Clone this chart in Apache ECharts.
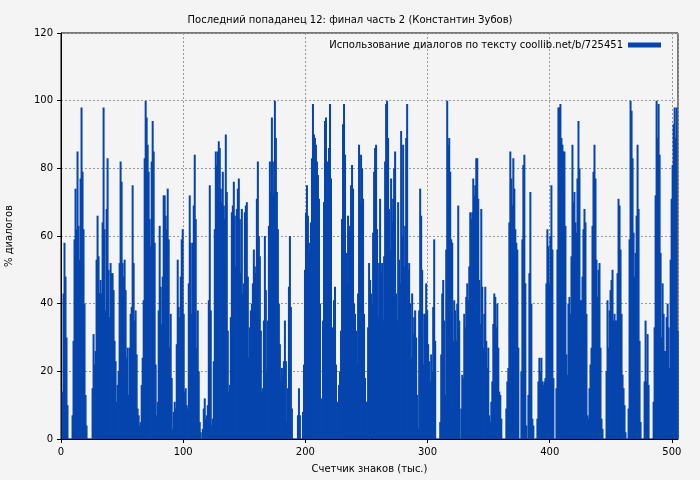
<!DOCTYPE html>
<html><head><meta charset="utf-8">
<script src="https://cdn.jsdelivr.net/npm/echarts@6/dist/echarts.min.js"></script>
<style>html,body{margin:0;padding:0;background:#f4f4f4}#c{width:700px;height:480px}</style>
</head><body><div id="c"></div>
<script>
const titleText = 'Последний попаданец 12: финал часть 2 (Константин Зубов)';
const seriesName = 'Использование диалогов по тексту coollib.net/b/725451';
const xAxisName = 'Счетчик знаков (тыс.)';
const yAxisName = '% диалогов';
const step = 0.82; // thousand chars per bar
const seg1 = [0,14,43,58,48,30,10,0,0,0,0,7,29,59,74,62,85,63,53,77,98,79,62,40,13,4,0,0,0,0,0,15,31,22,26,53,66,54,43,47,43,64,98,62,38,68,83,50,36,52,49,49];
const seg2 = [44,29,23,11,16,20,52,82,76,52,48,53,44,24,27,13,27,37,39,75,52,35,38,25,9,7,4,5,16,24,41,83,100,95,87,79,65,57,82,94,85,58,22,7,11,38,63,45,34,48,72,72];
const seg3 = [66,62,74,59,27,37,18,3,8,11,9,28,53,39,36,48,59,62,37,14,15,10,9,46,72,58,37,58,69,84,65,27,38,20,5,2,0,3,9,12,6,7,10,41,75,38,4,6,23,62,85,81];
const seg4 = [85,88,86,74,70,79,69,65,90,73,32,14,16,36,67,69,76,66,51,68,74,77,65,49,68,43,46,67,69,70,48,24,33,38,40,46,56,51,49,71,82,60,54,32,14,15,35,60,44,20,35,63];
const seg5 = [82,73,95,82,72,100,89,73,62,40,28,17,21,19,23,35,23,5,15,45,60,39,9,0,0,0,0,0,7,15,7,0,0,8,22,50,67,75,66,58,55,64,83,99,90,89,87,82,78,71,40,11];
const seg6 = [12,35,70,94,95,82,60,86,99,77,28,33,41,45,22,5,11,16,20,32,65,93,99,84,55,46,66,61,63,75,81,74,40,37,32,22,43,87,70,84,80,71,37,18,11,11,33,52,47,43,40,61];
const seg7 = [79,86,87,62,36,52,71,49,52,35,54,82,99,100,89,68,56,77,64,71,80,85,43,35,70,53,46,91,60,87,51,63,89,99,50,52,40,24,43,31,36,38,30,13,3,38,74,66,50,22,37,37];
const seg8 = [46,38,28,23,17,25,20,39,59,29,0,0,0,0,5,25,43,47,35,13,56,100,87,89,79,59,58,29,41,38,29,40,69,35,0,9,19,18,37,33,42,46,41,51,67,65,67,77,72,75,83,83];
const seg9 = [71,47,34,68,45,27,37,45,29,21,27,7,5,11,17,34,43,42,33,40,27,14,13,6,0,0,0,0,9,17,21,64,85,77,69,83,74,62,58,56,27,0,0,20,59,81,84,46,4,0,13,49];
const seg10 = [73,40,6,4,0,0,0,6,17,24,20,24,17,16,17,18,46,62,57,46,60,75,56,18,0,0,15,56,98,98,99,89,87,85,85,63,25,19,40,42,37,54,87,70,73,64,61,77,94,80,41,41];
const seg11 = [48,62,68,64,37,7,6,15,22,27,63,79,87,77,53,42,50,52,27,6,3,0,0,0,20,41,27,38,44,47,50,35,37,35,35,49,71,69,56,37,19,15,10,2,0,0,9,59,100,97,83,61];
const seg12 = [48,55,66,87,68,29,5,0,0,0,17,35,17,31,16,0,0,0,0,11,33,72,100,89,99,84,55,30,46,37,26,26,36,40,33,21,53,71,81,93,98,89,98,32];
const values = [].concat(seg1,seg2,seg3,seg4,seg5,seg6,seg7,seg8,seg9,seg10,seg11,seg12);
const data = values.map((v,i)=>[(i+0.5)*step, v]);
const chart = echarts.init(document.getElementById('c'));
const font = 'DejaVu Sans';
chart.setOption({
  backgroundColor:'#f4f4f4',
  animation:false,
  title:{text:titleText,left:'center',top:10,textStyle:{fontSize:10,fontWeight:'normal',color:'#000',fontFamily:font}},
  legend:{show:true,right:34,top:35,align:'right',itemWidth:33,itemHeight:5,itemGap:7,
    textStyle:{fontSize:10,color:'#000',fontFamily:font},data:[{name:seriesName,icon:'rect'}]},
  grid:{left:61,right:22,top:33,bottom:41,outerBoundsMode:'none',containLabel:false,show:true,borderColor:'#000',borderWidth:1,backgroundColor:'transparent'},
  xAxis:{type:'value',min:0,max:505,interval:100,name:xAxisName,nameLocation:'middle',nameGap:25,
    nameTextStyle:{fontSize:10,color:'#000',fontFamily:font},
    axisLine:{lineStyle:{color:'#000'}},axisTick:{show:true,length:4,lineStyle:{color:'#000'}},
    axisLabel:{fontSize:10,color:'#000',fontFamily:font,showMaxLabel:false},
    splitLine:{show:true,lineStyle:{color:'#999',type:[2,2]}}},
  yAxis:{type:'value',min:0,max:120,interval:20,name:yAxisName,nameLocation:'middle',nameGap:47,
    nameTextStyle:{fontSize:10,color:'#000',fontFamily:font},
    axisLine:{show:true,lineStyle:{color:'#000'}},axisTick:{show:true,length:4,lineStyle:{color:'#000'}},
    axisLabel:{fontSize:10,color:'#000',fontFamily:font},
    splitLine:{show:true,lineStyle:{color:'#999',type:[2,2]}}},
  series:[{name:seriesName,type:'bar',data:data,barWidth:2,itemStyle:{color:'#0645ad'}}]
});
</script></body></html>
